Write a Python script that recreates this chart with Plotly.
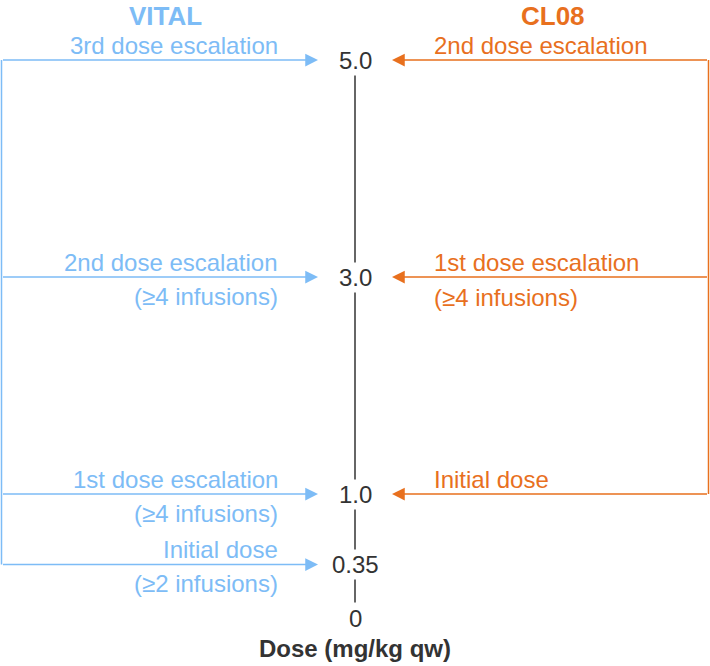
import plotly.graph_objects as go

# ---- data ----
vital_doses = [5.0, 3.0, 1.0, 0.35]
vital_labels = ["3rd dose escalation", "2nd dose escalation", "1st dose escalation", "Initial dose"]
vital_notes = ["", "(≥4 infusions)", "(≥4 infusions)", "(≥2 infusions)"]

cl08_doses = [5.0, 3.0, 1.0]
cl08_labels = ["2nd dose escalation", "1st dose escalation", "Initial dose"]
cl08_notes = ["", "(≥4 infusions)", ""]

tick_values = [5.0, 3.0, 1.0, 0.35, 0]
tick_labels = ["5.0", "3.0", "1.0", "0.35", "0"]

# ---- style / layout ----
W, H = 710, 666
BLUE = "#7DBCF6"
ORANGE = "#E8701E"
DARK = "#333333"
FONT = "Liberation Sans, Arial, sans-serif"
X_AXIS = 355
X_LEFT = 1.5
X_RIGHT = 708.5
TIP = 37
BLUE_TEXT_X = 280
ORANGE_TEXT_X = 432
PX_PER_UNIT = 108.5
TOP_PX = 60
Y_MAX = 5.0 + TOP_PX / PX_PER_UNIT
Y_MIN = Y_MAX - H / PX_PER_UNIT
FS = 24

fig = go.Figure()

# central dose axis
fig.add_trace(go.Scatter(x=[X_AXIS, X_AXIS], y=[max(tick_values), min(tick_values)],
                         mode="lines", line=dict(color=DARK, width=1.5),
                         hoverinfo="skip", showlegend=False))
# VITAL vertical connector
fig.add_trace(go.Scatter(x=[X_LEFT, X_LEFT], y=[max(vital_doses), min(vital_doses)],
                         mode="lines", line=dict(color=BLUE, width=1.5),
                         hoverinfo="skip", showlegend=False))
# CL08 vertical connector
fig.add_trace(go.Scatter(x=[X_RIGHT, X_RIGHT], y=[max(cl08_doses), min(cl08_doses)],
                         mode="lines", line=dict(color=ORANGE, width=1.5),
                         hoverinfo="skip", showlegend=False))

ann = []

def arrow(x_tip, x_tail, y, color):
    return dict(x=x_tip, y=y, ax=x_tail, ay=y, xref="x", yref="y", axref="x", ayref="y",
                text="", showarrow=True, arrowhead=2, arrowsize=1.7, arrowwidth=1.5,
                arrowcolor=color)

def label(x, y, text, color, anchor, shift):
    return dict(x=x, y=y, xref="x", yref="y", text=text, showarrow=False,
                xanchor=anchor, yanchor="middle", yshift=shift,
                font=dict(family=FONT, size=FS, color=color))

for d, lab, note in zip(vital_doses, vital_labels, vital_notes):
    ann.append(arrow(X_AXIS - TIP, X_LEFT, d, BLUE))
    ann.append(label(BLUE_TEXT_X, d, lab, BLUE, "right", 15))
    if note:
        ann.append(label(BLUE_TEXT_X, d, note, BLUE, "right", -19))

for d, lab, note in zip(cl08_doses, cl08_labels, cl08_notes):
    ann.append(arrow(X_AXIS + TIP, X_RIGHT, d, ORANGE))
    ann.append(label(ORANGE_TEXT_X, d, lab, ORANGE, "left", 15))
    if note:
        ann.append(label(ORANGE_TEXT_X, d, note, ORANGE, "left", -20))

# tick labels centred on the axis line
for v, t in zip(tick_values, tick_labels):
    is_zero = v == 0
    ann.append(dict(x=X_AXIS, y=v, xref="x", yref="y", text=t, showarrow=False,
                    xanchor="center", yanchor="top" if is_zero else "middle",
                    bgcolor="white", borderpad=1,
                    font=dict(family=FONT, size=FS, color=DARK)))

# group titles
ann.append(dict(x=165, y=1 - 16 / H, xref="x", yref="paper", text="<b>VITAL</b>",
                showarrow=False, xanchor="center", yanchor="middle",
                font=dict(family=FONT, size=26, color=BLUE)))
ann.append(dict(x=553, y=1 - 16 / H, xref="x", yref="paper", text="<b>CL08</b>",
                showarrow=False, xanchor="center", yanchor="middle",
                font=dict(family=FONT, size=26, color=ORANGE)))
# axis title
ann.append(dict(x=X_AXIS, y=1 - 648 / H, xref="x", yref="paper", text="<b>Dose (mg/kg qw)</b>",
                showarrow=False, xanchor="center", yanchor="middle",
                font=dict(family=FONT, size=FS, color=DARK)))

fig.update_layout(
    width=W, height=H,
    margin=dict(l=0, r=0, t=0, b=0),
    paper_bgcolor="white", plot_bgcolor="white",
    xaxis=dict(range=[0, W], visible=False, fixedrange=True),
    yaxis=dict(range=[Y_MIN, Y_MAX], visible=False, fixedrange=True),
    annotations=ann,
    showlegend=False,
)

fig.write_html("out.html", config={"displayModeBar": False},
               post_script="document.body.style.margin='0';document.body.style.overflow='hidden';")
